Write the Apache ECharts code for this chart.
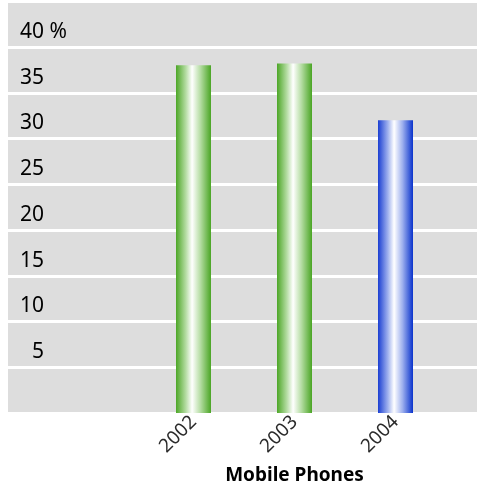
<!DOCTYPE html>
<html>
<head>
<meta charset="utf-8">
<script src="https://cdn.jsdelivr.net/npm/echarts@6/dist/echarts.min.js"></script>
<style>
  html, body { margin: 0; padding: 0; background: #ffffff; }
  #chart { width: 477px; height: 488px; }
</style>
</head>
<body>
<div id="chart"></div>
<script>
// Share of mobile phones by year (%)
var years = ['2002', '2003', '2004'];
var shares = [38.0, 38.2, 32.0];
var yTicks = ['', '\u20075', '10', '15', '20', '25', '30', '35', '40 %'];

var FONT = '"Noto Sans", "Open Sans", sans-serif';

function barGradient(edgeLeft, soft, edgeRight) {
  return new echarts.graphic.LinearGradient(0, 0, 1, 0, [
    { offset: 0, color: edgeLeft },
    { offset: 0.28, color: soft },
    { offset: 0.46, color: '#ffffff' },
    { offset: 0.7, color: soft },
    { offset: 1, color: edgeRight }
  ]);
}
var greenFill = barGradient('#4ca626', '#b4dca2', '#4aa524');
var blueFill = barGradient('#1a3ed2', '#9eb0ee', '#0a33cc');

var chart = echarts.init(document.getElementById('chart'), null, { renderer: 'canvas' });

chart.setOption({
  animation: false,
  backgroundColor: '#ffffff',
  graphic: [{
    type: 'rect',
    z: -10,
    shape: { x: 8, y: 3, width: 469, height: 410.5 },
    style: { fill: '#dddddd' },
    silent: true
  }],
  grid: [
    { left: 8, right: 0, top: 47, bottom: 75, containLabel: false, outerBoundsMode: 'none' },
    { left: 143, width: 303, top: 47, bottom: 75, containLabel: false, outerBoundsMode: 'none' }
  ],
  xAxis: [
    {
      gridIndex: 0, type: 'category', data: years,
      show: false
    },
    {
      gridIndex: 1, type: 'category', data: years,
      axisLine: { show: false },
      axisTick: { show: false },
      axisLabel: {
        rotate: 45, margin: 6,
        color: '#2a2a2a', fontSize: 19, fontFamily: FONT
      },
      name: 'Mobile Phones',
      nameLocation: 'middle',
      nameGap: 53,
      nameTextStyle: { color: '#000000', fontSize: 19, fontWeight: 'bold', fontFamily: FONT }
    }
  ],
  yAxis: [
    {
      gridIndex: 0, type: 'value', min: 0, max: 40, interval: 5,
      axisLine: { show: false },
      axisTick: { show: false },
      splitLine: { show: true, lineStyle: { color: '#ffffff', width: 3 } },
      axisLabel: {
        inside: true, margin: 12, align: 'left', verticalAlign: 'middle',
        color: '#000000', fontSize: 21, fontFamily: FONT,
        // label sits in the band above its grid line: a blank second line lifts it
        formatter: function (v) { return '{t|' + yTicks[Math.round(v / 5)] + '}\n{g| }'; },
        rich: {
          t: { fontSize: 21, lineHeight: 20, color: '#000000', fontFamily: FONT },
          g: { fontSize: 10, lineHeight: 30 }
        }
      }
    },
    {
      gridIndex: 1, type: 'value', min: 0, max: 40, interval: 5,
      show: false, splitLine: { show: false }
    }
  ],
  series: [{
    type: 'bar',
    xAxisIndex: 1, yAxisIndex: 1,
    barWidth: 35,
    data: shares.map(function (v, i) {
      return { value: v, itemStyle: { color: i < 2 ? greenFill : blueFill } };
    })
  }]
});
</script>
</body>
</html>
